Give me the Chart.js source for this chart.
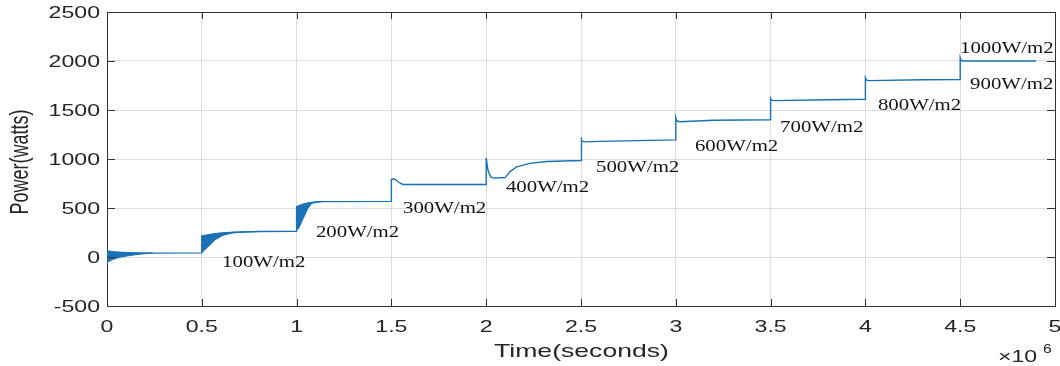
<!DOCTYPE html>
<html>
<head>
<meta charset="utf-8">
<script src="https://cdn.jsdelivr.net/npm/chart.js@4/dist/chart.umd.min.js"></script>
<style>
  html, body { margin: 0; padding: 0; background: #ffffff; }
  #c { display: block; }
</style>
</head>
<body>
<canvas id="c" width="1060" height="366"></canvas>
<script>
// ---- Data (time in units of 10^6 s, power in watts) ----
const timeMain = [
  0, 0.03, 0.07, 0.12, 0.17, 0.24, 0.5,
  0.5, 0.53, 0.57, 0.61, 0.66, 0.73, 0.8, 1.0,
  1.0, 1.01, 1.035, 1.06, 1.08, 1.105, 1.13, 1.5,
  1.5, 1.51, 1.525, 1.54, 1.56, 2.0,
  2.0, 2.01, 2.025, 2.04, 2.07, 2.1, 2.125, 2.16, 2.23, 2.32, 2.5,
  2.5, 2.505, 2.52, 2.6, 3.0,
  3.0, 3.005, 3.02, 3.2, 3.5,
  3.5, 3.505, 3.52, 3.8, 4.0,
  4.0, 4.005, 4.02, 4.3, 4.5,
  4.5, 4.505, 4.52, 4.9
];
const powerMain = [
  0, 20, 30, 36, 38, 40, 42,
  210, 165, 207, 234, 250, 256, 260, 263,
  520, 410, 467, 525, 553, 561, 565, 568,
  790, 798, 785, 760, 740, 740,
  1010, 880, 815, 805, 808, 810, 870, 920, 955, 975, 985,
  1220, 1185, 1175, 1180, 1195,
  1425, 1390, 1380, 1395, 1400,
  1620, 1600, 1596, 1605, 1610,
  1827, 1805, 1800, 1808, 1810,
  2033, 2005, 2000, 2000
];

// Oscillation envelopes of the start-up transients
const band1Time  = [0, 0.03, 0.07, 0.12, 0.17, 0.24];
const band1Upper = [65, 55, 50, 45, 42, 40];
const band1Lower = [-55, -25, -2, 15, 28, 40];

const band2Time  = [0.5, 0.53, 0.57, 0.61, 0.66, 0.73, 0.8];
const band2Upper = [215, 228, 240, 248, 253, 257, 260];
const band2Lower = [45, 100, 175, 220, 245, 256, 260];

const band3Time  = [1.0, 1.01, 1.035, 1.06, 1.08, 1.105, 1.13];
const band3Upper = [515, 525, 541, 553, 559, 563, 565];
const band3Lower = [275, 290, 394, 497, 548, 560, 565];

// Irradiance annotations
const annotationTexts = ['100W/m2','200W/m2','300W/m2','400W/m2','500W/m2','600W/m2','700W/m2','800W/m2','900W/m2','1000W/m2'];
const annotationTime  = [0.607, 1.102, 1.561, 2.104, 2.579, 3.101, 3.55, 4.066, 4.552, 4.499];
const annotationPower = [-51, 255, 500, 714, 918, 1132, 1326, 1550, 1765, 2132];

// Axis settings
const xTitle = 'Time(seconds)';
const yTitle = 'Power(watts)';
const xExponent = '6';
const xMin = 0, xMax = 5, xStep = 0.5;
const yMin = -500, yMax = 2500, yStep = 500;

// ---- Build ----
const toXY = (ts, vs) => ts.map((t, i) => ({ x: t, y: vs[i] }));
const blue = '#1a71b6';

function bandPair(ts, lo, hi) {
  return [
    { data: toXY(ts, lo), borderColor: blue, backgroundColor: blue, borderWidth: 1, pointRadius: 0, fill: false, tension: 0 },
    { data: toXY(ts, hi), borderColor: blue, backgroundColor: blue, borderWidth: 1, pointRadius: 0, fill: '-1', tension: 0 }
  ];
}

const datasets = [
  ...bandPair(band1Time, band1Lower, band1Upper),
  ...bandPair(band2Time, band2Lower, band2Upper),
  ...bandPair(band3Time, band3Lower, band3Upper),
  { data: toXY(timeMain, powerMain), borderColor: blue, borderWidth: 1.4, pointRadius: 0, fill: false, tension: 0 }
];

const textColor = '#262626';

const decorPlugin = {
  id: 'decor',
  afterDraw(chart) {
    const ctx = chart.ctx;
    const { left, right, top, bottom } = chart.chartArea;
    const xs = chart.scales.x, ys = chart.scales.y;
    ctx.save();
    // box top / right
    ctx.strokeStyle = '#333333';
    ctx.lineWidth = 1;
    ctx.beginPath();
    ctx.moveTo(Math.round(left) + 0.5, Math.round(top) + 0.5);
    ctx.lineTo(Math.round(right) + 0.5, Math.round(top) + 0.5);
    ctx.lineTo(Math.round(right) + 0.5, Math.round(bottom) + 0.5);
    ctx.stroke();
    // inward ticks
    ctx.beginPath();
    xs.ticks.forEach(t => {
      const px = Math.round(xs.getPixelForValue(t.value)) + 0.5;
      ctx.moveTo(px, bottom); ctx.lineTo(px, bottom - 7);
      ctx.moveTo(px, top); ctx.lineTo(px, top + 7);
    });
    ys.ticks.forEach(t => {
      const py = Math.round(ys.getPixelForValue(t.value)) + 0.5;
      ctx.moveTo(left, py); ctx.lineTo(left + 8, py);
      ctx.moveTo(right, py); ctx.lineTo(right - 8, py);
    });
    ctx.stroke();

    // tick labels
    ctx.fillStyle = textColor;
    ctx.font = '16.5px "Liberation Sans", Arial, sans-serif';
    ctx.textBaseline = 'middle';
    ctx.textAlign = 'center';
    xs.ticks.forEach(t => {
      const px = xs.getPixelForValue(t.value);
      ctx.save(); ctx.translate(px, bottom + 21); ctx.scale(1.4, 1);
      ctx.fillText(String(t.value), 0, 0); ctx.restore();
    });
    ctx.textAlign = 'right';
    ys.ticks.forEach(t => {
      const py = ys.getPixelForValue(t.value);
      ctx.save(); ctx.translate(left - 7, py + 1); ctx.scale(1.4, 1);
      ctx.fillText(String(t.value), 0, 0); ctx.restore();
    });

    // axis titles
    ctx.font = '19px "Liberation Sans", Arial, sans-serif';
    ctx.textAlign = 'center';
    ctx.save(); ctx.translate((left + right) / 2 + 0.5, 352); ctx.scale(1.4, 1);
    ctx.fillText(xTitle, 0, 0); ctx.restore();

    ctx.font = '18px "Liberation Sans", Arial, sans-serif';
    ctx.save(); ctx.translate(21, (top + bottom) / 2 + 3); ctx.scale(1.4, 1); ctx.rotate(-Math.PI / 2);
    ctx.fillText(yTitle, 0, 0); ctx.restore();

    // exponent
    ctx.textAlign = 'left';
    ctx.textBaseline = 'alphabetic';
    ctx.font = '16.5px "Liberation Sans", Arial, sans-serif';
    ctx.save(); ctx.translate(998, 361.5); ctx.scale(1.4, 1);
    ctx.fillText('\u00d710', 0, 0); ctx.restore();
    ctx.font = '12px "Liberation Sans", Arial, sans-serif';
    ctx.save(); ctx.translate(1043, 353); ctx.scale(1.3, 1);
    ctx.fillText(xExponent, 0, 0); ctx.restore();

    // annotations
    ctx.fillStyle = '#141414';
    ctx.font = '17.5px "Liberation Serif", "Times New Roman", serif';
    ctx.textAlign = 'left';
    ctx.textBaseline = 'middle';
    annotationTexts.forEach((s, i) => {
      const px = xs.getPixelForValue(annotationTime[i]);
      const py = ys.getPixelForValue(annotationPower[i]);
      ctx.save(); ctx.translate(px, py); ctx.scale(1.19, 1);
      ctx.fillText(s, 0, 0); ctx.restore();
    });
    ctx.restore();
  }
};

new Chart(document.getElementById('c'), {
  type: 'line',
  data: { datasets },
  options: {
    responsive: false,
    devicePixelRatio: 1,
    animation: false,
    layout: { padding: { left: 0, right: 5, top: 12, bottom: 0 } },
    plugins: { legend: { display: false }, tooltip: { enabled: false } },
    scales: {
      x: {
        type: 'linear', min: xMin, max: xMax,
        ticks: { stepSize: xStep, display: false },
        grid: { color: '#dedede', drawTicks: false, tickLength: 0 },
        border: { color: '#333333', width: 1 },
        afterFit: s => { s.height = 60; }
      },
      y: {
        type: 'linear', min: yMin, max: yMax,
        ticks: { stepSize: yStep, display: false },
        grid: { color: '#dedede', drawTicks: false, tickLength: 0 },
        border: { color: '#333333', width: 1 },
        afterFit: s => { s.width = 107; }
      }
    }
  },
  plugins: [decorPlugin]
});
</script>
</body>
</html>
